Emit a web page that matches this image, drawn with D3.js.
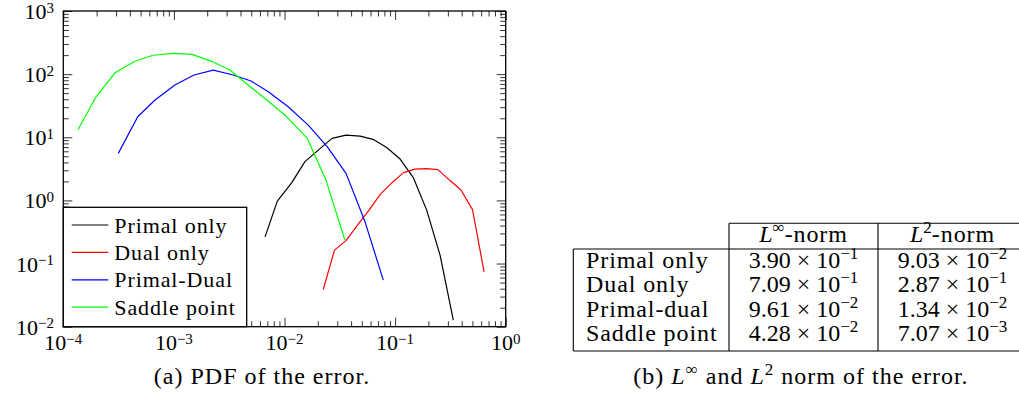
<!DOCTYPE html>
<html>
<head>
<meta charset="utf-8">
<script src="https://cdn.jsdelivr.net/npm/d3@7"></script>
<style>
  body { margin: 0; background: #fff; }
  svg { display: block; }
</style>
</head>
<body>
<script>
// ---- data ----
const primalX = [6.67e-3, 8.61e-3, 1.16e-2, 1.53e-2, 2.02e-2, 2.69e-2, 3.6e-2, 4.82e-2, 6.31e-2, 8.39e-2, 1.11e-1, 1.46e-1, 1.93e-1, 2.55e-1, 3.36e-1];
const primalY = [0.265, 0.975, 1.9, 4.12, 6.27, 9.61, 10.8, 10.4, 9.27, 6.87, 4.52, 2.3, 0.702, 0.136, 0.0127];

const dualX = [2.24e-2, 2.83e-2, 3.6e-2, 4.57e-2, 5.81e-2, 7.38e-2, 9.38e-2, 1.19e-1, 1.51e-1, 1.92e-1, 2.44e-1, 3.1e-1, 3.94e-1, 5.01e-1, 6.37e-1];
const dualY = [0.0388, 0.163, 0.231, 0.406, 0.702, 1.26, 1.91, 2.76, 3.13, 3.19, 3.08, 2.1, 1.46, 0.715, 0.0744];

const pdX = [3.14e-4, 4.71e-4, 6.75e-4, 1.02e-3, 1.52e-3, 2.27e-3, 3.44e-3, 4.98e-3, 7.14e-3, 1.08e-2, 1.64e-2, 2.44e-2, 3.6e-2, 5.35e-2, 7.82e-2];
const pdY = [5.56, 21.1, 38.9, 67.2, 96.8, 116, 96.8, 77.8, 52.6, 30.4, 15.6, 7.07, 2.68, 0.458, 0.0546];

const saddleX = [1.36e-4, 1.98e-4, 2.93e-4, 4.45e-4, 6.47e-4, 9.88e-4, 1.46e-3, 2.16e-3, 3.21e-3, 4.77e-3, 7.1e-3, 1.05e-2, 1.6e-2, 2.37e-2, 3.52e-2];
const saddleY = [13.3, 43.8, 105, 160, 199, 214, 206, 161, 116, 65.5, 37.5, 21.1, 9.7, 2.1, 0.235];

const seriesNames = ['Primal only', 'Dual only', 'Primal-Dual', 'Saddle point'];
const seriesColors = ['#000000', '#ff0000', '#0000ff', '#00ff00'];

const xTickExps = [-4, -3, -2, -1, 0];
const yTickExps = [-2, -1, 0, 1, 2, 3];

const tableRows = ['Primal only', 'Dual only', 'Primal-dual', 'Saddle point'];
const linfMant = ['3.90', '7.09', '9.61', '4.28'];
const linfExp = ['\u22121', '\u22121', '\u22122', '\u22122'];
const l2Mant = ['9.03', '2.87', '1.34', '7.07'];
const l2Exp = ['\u22122', '\u22121', '\u22122', '\u22123'];

//-------------------------------------------------------

const W = 1019;
const H = 409;
const FONT = '"Liberation Serif"';
const plot = { left: 63.3, right: 505.7, top: 11, bottom: 326.7 };

const svg = d3.select('body').append('svg').attr('width', W).attr('height', H);

// every text goes through here so the font is set inline
const addText = (parent) => parent.append('text').style('font-family', FONT).attr('fill', '#000');

const x = d3.scaleLog().domain([1e-4, 1]).range([plot.left, plot.right]);
const y = d3.scaleLog().domain([1e-2, 1e3]).range([plot.bottom, plot.top]);

const minorOf = (exps) => {
  const out = [];
  for (let i = 0; i < exps.length - 1; i++) {
    for (let k = 2; k <= 9; k++) out.push(k * Math.pow(10, exps[i]));
  }
  return out;
};
const xMajor = xTickExps.map((e) => Math.pow(10, e));
const yMajor = yTickExps.map((e) => Math.pow(10, e));
const xMinor = minorOf(xTickExps);
const yMinor = minorOf(yTickExps);

// ticks, pointing inward on all four sides
const tickGroup = (axis, tx, ty) => {
  const g = svg.append('g').attr('transform', `translate(${tx},${ty})`).call(axis);
  g.select('.domain').remove();
  g.selectAll('line').attr('stroke', '#000').attr('stroke-width', 0.8);
  return g;
};
const sides = [
  [d3.axisBottom, 0, plot.bottom, x],
  [d3.axisTop, 0, plot.top, x],
  [d3.axisLeft, plot.left, 0, y],
  [d3.axisRight, plot.right, 0, y],
];
sides.forEach(([fn, tx, ty, sc]) => {
  const major = sc === x ? xMajor : yMajor;
  const minor = sc === x ? xMinor : yMinor;
  tickGroup(fn(sc).tickValues(major).tickSize(-9).tickFormat(''), tx, ty);
  tickGroup(fn(sc).tickValues(minor).tickSize(-5.5).tickFormat(''), tx, ty);
});

// tick labels like 10^-4
const powLabel = (t, exp) => {
  t.append('tspan').text('10');
  t.append('tspan').attr('dy', -6.5).attr('font-size', 15).text(exp < 0 ? '\u2212' + -exp : exp);
};

const xLab = svg.append('g');
xTickExps.forEach((e) => {
  const t = addText(xLab)
    .attr('x', x(Math.pow(10, e)))
    .attr('y', 350)
    .attr('text-anchor', 'middle')
    .attr('font-size', 22);
  powLabel(t, e);
});

const yLab = svg.append('g');
yTickExps.forEach((e) => {
  const t = addText(yLab)
    .attr('x', 54)
    .attr('y', y(Math.pow(10, e)) + 8)
    .attr('text-anchor', 'end')
    .attr('font-size', 22);
  powLabel(t, e);
});

// curves
const series = [
  [primalX, primalY],
  [dualX, dualY],
  [pdX, pdY],
  [saddleX, saddleY],
];
const line = d3.line().x((d) => x(d[0])).y((d) => y(d[1]));

svg.append('g')
  .selectAll('path')
  .data(series)
  .join('path')
  .attr('fill', 'none')
  .attr('stroke', (d, i) => seriesColors[i])
  .attr('stroke-width', 1.2)
  .attr('stroke-linejoin', 'round')
  .attr('d', ([xs, ys]) => line(xs.map((v, i) => [v, ys[i]])));

// frame
svg.append('rect')
  .attr('x', plot.left)
  .attr('y', plot.top)
  .attr('width', plot.right - plot.left)
  .attr('height', plot.bottom - plot.top)
  .attr('fill', 'none')
  .attr('stroke', '#000')
  .attr('stroke-width', 1.3);

// legend
const legend = svg.append('g').attr('id', 'legend');
legend.append('rect')
  .attr('x', plot.left)
  .attr('y', 207.3)
  .attr('width', 246.7 - plot.left)
  .attr('height', plot.bottom - 207.3)
  .attr('fill', '#fff')
  .attr('stroke', '#000')
  .attr('stroke-width', 1.3);

const rowY = (i) => 225 + i * 27.4;
seriesNames.forEach((name, i) => {
  legend.append('line')
    .attr('x1', 71.7)
    .attr('x2', 108.3)
    .attr('y1', rowY(i))
    .attr('y2', rowY(i))
    .attr('stroke', seriesColors[i])
    .attr('stroke-width', 1.2);
  addText(legend)
    .attr('x', 114.3)
    .attr('y', rowY(i) + 7.5)
    .attr('font-size', 22)
    .attr('letter-spacing', 0.9)
    .text(name);
});

// ---- table (b) ----
const tbl = { left: 573.3, c1: 729, c2: 878, right: 1027, top: 223.3, head: 249, bottom: 351 };
const tg = svg.append('g').attr('stroke', '#000').attr('stroke-width', 1.1);
tg.append('line').attr('x1', tbl.c1).attr('x2', tbl.right).attr('y1', tbl.top).attr('y2', tbl.top);
tg.append('line').attr('x1', tbl.left).attr('x2', tbl.right).attr('y1', tbl.head).attr('y2', tbl.head);
tg.append('line').attr('x1', tbl.left).attr('x2', tbl.right).attr('y1', tbl.bottom).attr('y2', tbl.bottom);
tg.append('line').attr('x1', tbl.left).attr('x2', tbl.left).attr('y1', tbl.head).attr('y2', tbl.bottom);
[tbl.c1, tbl.c2].forEach((cx) =>
  tg.append('line').attr('x1', cx).attr('x2', cx).attr('y1', tbl.top).attr('y2', tbl.bottom)
);

const TFS = 24;
const SUP = 17;
const tt = svg.append('g');
const normHeader = (cx, sup) => {
  const t = addText(tt).attr('x', cx).attr('y', 242).attr('text-anchor', 'middle').attr('font-size', TFS);
  t.append('tspan').attr('font-style', 'italic').text('L');
  t.append('tspan').attr('dy', -9).attr('font-size', SUP).text(sup);
  t.append('tspan').attr('dy', 9).attr('letter-spacing', 0.9).text('-norm');
};
normHeader((tbl.c1 + tbl.c2) / 2, '\u221e');
normHeader((tbl.c2 + tbl.right) / 2, '2');

const rowBase = (i) => 267.5 + i * 24.5;
tableRows.forEach((name, i) => {
  addText(tt)
    .attr('x', 586)
    .attr('y', rowBase(i))
    .attr('font-size', TFS)
    .attr('letter-spacing', 0.9)
    .text(name);
});

const sciCell = (cx, mants, exps) => {
  mants.forEach((m, i) => {
    const t = addText(tt)
      .attr('x', cx)
      .attr('y', rowBase(i))
      .attr('text-anchor', 'middle')
      .attr('font-size', TFS);
    t.append('tspan').text(m + ' \u00d7 10');
    t.append('tspan').attr('dy', -9).attr('font-size', SUP).text(exps[i]);
  });
};
sciCell((tbl.c1 + tbl.c2) / 2, linfMant, linfExp);
sciCell((tbl.c2 + tbl.right) / 2, l2Mant, l2Exp);

// captions
const CFS = 24;
addText(svg)
  .attr('x', 262)
  .attr('y', 384)
  .attr('text-anchor', 'middle')
  .attr('font-size', CFS)
  .attr('letter-spacing', 1)
  .text('(a) PDF of the error.');

const capB = addText(svg).attr('x', 801).attr('y', 384).attr('text-anchor', 'middle').attr('font-size', CFS).attr('letter-spacing', 1);
capB.append('tspan').text('(b) ');
capB.append('tspan').attr('font-style', 'italic').text('L');
capB.append('tspan').attr('dy', -9).attr('font-size', SUP).text('\u221e');
capB.append('tspan').attr('dy', 9).text(' and ');
capB.append('tspan').attr('font-style', 'italic').text('L');
capB.append('tspan').attr('dy', -9).attr('font-size', SUP).text('2');
capB.append('tspan').attr('dy', 9).text(' norm of the error.');
</script>
</body>
</html>
